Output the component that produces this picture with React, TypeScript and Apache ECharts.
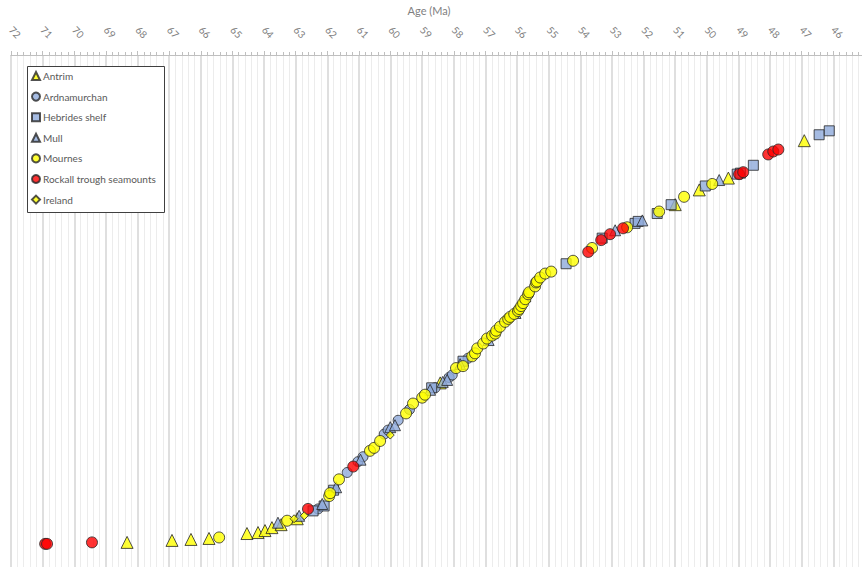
import React, { useEffect, useRef } from "react";
import * as echarts from "echarts";

// Age (Ma) and cumulative sample number for each suite
const antrimAge = [68.33, 66.91, 66.31, 65.74, 64.54, 64.19, 63.97, 63.75, 63.46, 62.95, 58.43, 51.0, 50.24, 49.32, 46.92];
const antrimRank = [2, 2.8, 3.2, 3.6, 5.6, 6, 6.8, 8, 9.2, 11.6, 66.8, 139.2, 145.2, 150, 165.2];

const ardnaAge = [62.29, 61.37, 61.03, 60.87, 60.2, 60.08, 59.76, 59.4, 58.59, 58.15, 58.05, 57.55];
const ardnaRank = [15.6, 30.4, 34.8, 36.8, 46, 47.6, 51.6, 56, 64.8, 69, 70, 76.8];

const hebAge = [62.45, 62.1, 61.8, 58.7, 57.71, 54.45, 53.31, 52.27, 52.17, 51.57, 51.13, 50.05, 49.04, 48.94, 48.53, 46.45, 46.13];
const hebRank = [14.8, 16.8, 23.2, 64.8, 75.6, 115.2, 125.6, 131.6, 132.4, 135.6, 139.2, 146.8, 151.6, 152, 155.2, 167.6, 169.2];

const mullAge = [63.56, 62.89, 62.16, 61.72, 60.95, 60.01, 59.86, 58.75, 58.35, 58.21, 57.8, 56.9, 56.05, 55.74, 52.9, 52.04, 49.61];
const mullRank = [10, 12.8, 17.6, 24.4, 35.6, 48.8, 49.6, 64, 67.2, 68, 74.4, 84.2, 95.2, 102, 128.8, 132.8, 149.2];

const mournesAge = [65.42, 63.27, 61.94, 61.91, 61.63, 60.65, 60.52, 60.33, 59.51, 59.29, 59.0, 58.91, 57.93, 57.71, 57.42, 57.33, 57.26, 57.07, 56.95, 56.79, 56.69, 56.66, 56.54, 56.38, 56.28, 56.22, 56.09, 55.97, 55.93, 55.87, 55.81, 55.74, 55.65, 55.62, 55.43, 55.4, 55.37, 55.27, 55.11, 54.92, 54.23, 53.63, 52.52, 51.51, 50.72, 49.83];
const mournesRank = [4, 10.8, 20.8, 22, 27.6, 39.2, 40.4, 43.2, 54.4, 58.4, 60.8, 62, 72.8, 73.6, 77.6, 78.8, 80.8, 82.8, 84.8, 86, 86.8, 88, 89.6, 91.6, 92.8, 93.6, 94.8, 96, 96.8, 98, 99.2, 100.8, 102.8, 103.6, 106, 107.6, 108, 109.6, 111.2, 112, 116.4, 121.6, 130, 136.4, 142.4, 147.6];

const rockallAge = [70.92, 70.86, 69.44, 62.61, 61.18, 53.75, 53.34, 53.06, 52.65, 48.98, 48.85, 48.06, 47.9, 47.74];
const rockallRank = [1.4, 1.4, 2, 15.6, 32.8, 120, 124.8, 127.2, 129.6, 151.6, 152.4, 159.6, 160.8, 161.6];

const irelandAge = [63.05, 62.73, 60.01];
const irelandRank = [11.6, 12.8, 45.6];

const seriesNames = ["Antrim", "Ardnamurchan", "Hebrides shelf", "Mull", "Mournes", "Rockall trough seamounts", "Ireland"];

const zip = (a: number[], b: number[]) => a.map((v, i) => [v, b[i]]);

const YELLOW = "#ffff00";
const BLUE = "#8eaadb";
const RED = "#ff0000";
const EDGE = "#262626";

export default function App() {
  const ref = useRef<HTMLDivElement>(null);
  useEffect(() => {
    if (!ref.current) return;
    document.body.style.overflow = "hidden";
    const chart = echarts.init(ref.current, null, { renderer: "svg" });
    const mk = (name: string, data: number[][], symbol: string, size: number, color: string) => ({
      name,
      type: "scatter",
      data,
      symbol,
      symbolSize: size,
      itemStyle: { color, borderColor: EDGE, borderWidth: 1 },
      emphasis: { disabled: true },
    });
    const series = [
      mk(seriesNames[0], zip(antrimAge, antrimRank), "triangle", 12, YELLOW),
      mk(seriesNames[1], zip(ardnaAge, ardnaRank), "circle", 10, BLUE),
      mk(seriesNames[2], zip(hebAge, hebRank), "rect", 10, BLUE),
      mk(seriesNames[3], zip(mullAge, mullRank), "triangle", 11, BLUE),
      mk(seriesNames[4], zip(mournesAge, mournesRank), "circle", 11, YELLOW),
      mk(seriesNames[5], zip(rockallAge, rockallRank), "circle", 11, RED),
      mk(seriesNames[6], zip(irelandAge, irelandRank), "diamond", 8, YELLOW),
    ];
    chart.setOption({
      animation: false,
      textStyle: { fontFamily: "Lato" },
      grid: { left: 11, right: 1, top: 47, bottom: 6 },
      xAxis: {
        type: "value",
        position: "top",
        inverse: true,
        min: 45,
        max: 72,
        interval: 1,
        name: "Age (Ma)",
        nameLocation: "middle",
        nameGap: 37,
        nameTextStyle: { color: "#7f7f7f", fontSize: 11, fontFamily: "Lato", padding: [0, 18, 2, 0] },
        axisLine: { show: true, onZero: false, lineStyle: { color: "#bfbfbf", width: 1 } },
        axisTick: { show: true, length: 4, lineStyle: { color: "#bfbfbf" } },
        minorTick: { show: true, splitNumber: 5, length: 3, lineStyle: { color: "#bfbfbf" } },
        splitLine: { show: true, lineStyle: { color: "#d4d4d4", width: 1.5 } },
        minorSplitLine: { show: true, lineStyle: { color: "#ececec", width: 1 } },
        axisLabel: {
          rotate: 45,
          margin: 27,
          align: "left",
          verticalAlign: "middle",
          color: "#808080",
          fontSize: 10,
          fontFamily: "Lato",
          showMinLabel: false,
        },
      },
      yAxis: {
        type: "value",
        min: -8,
        max: 200,
        show: false,
        splitLine: { show: false },
      },
      graphic: [
        {
          type: "rect",
          z: 3,
          shape: { x: 27.5, y: 66.5, width: 137, height: 146 },
          style: { fill: "#ffffff", stroke: "#404040", lineWidth: 1 },
        },
      ],
      legend: {
        z: 5,
        orient: "vertical",
        left: 27,
        top: 66,
        padding: [5, 6, 5, 4],
        itemWidth: 8,
        itemHeight: 8,
        itemGap: 10.6,
        textStyle: { color: "#595959", fontSize: 10, fontFamily: "Lato", padding: [0, 0, 0, -2] },
        data: seriesNames,
      },
      series,
    });
    return () => chart.dispose();
  }, []);
  return (
    <div
      ref={ref}
      style={{ position: "fixed", left: 0, top: 0, width: 866, height: 573, background: "#ffffff" }}
    />
  );
}
